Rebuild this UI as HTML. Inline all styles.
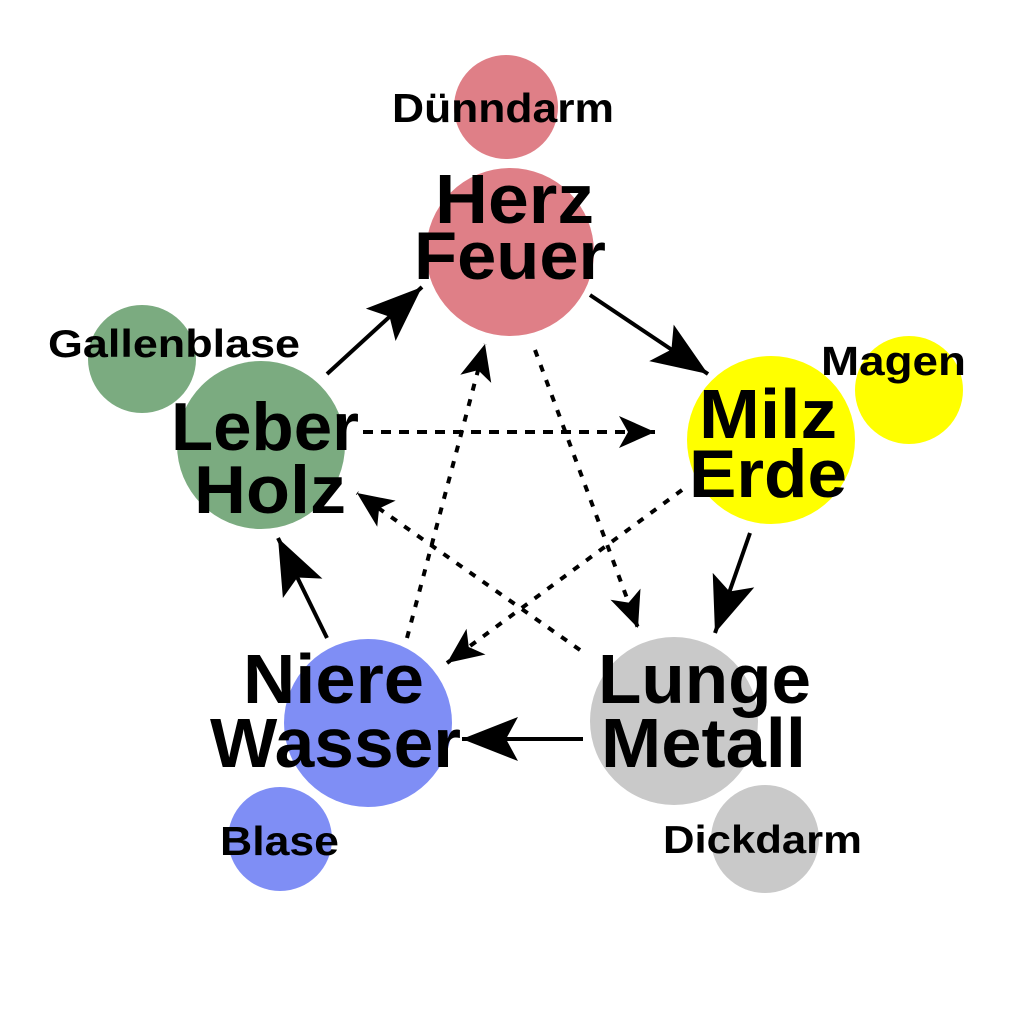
<!DOCTYPE html>
<html>
<head>
<meta charset="utf-8">
<style>
  html,body{margin:0;padding:0;background:#fff;}
  svg{display:block;}
  text{font-family:"Liberation Sans", Arial, sans-serif;font-weight:bold;fill:#000;}
</style>
</head>
<body>
<svg width="1023" height="1023" viewBox="0 0 1023 1023" xmlns="http://www.w3.org/2000/svg">
  <defs>
    <marker id="hs" markerUnits="userSpaceOnUse" viewBox="-60 -25 62 50" refX="0" refY="0" markerWidth="62" markerHeight="50" orient="auto">
      <path d="M0,0 L-56,-22 L-44,0 L-56,22 Z" fill="#000"/>
    </marker>
    <marker id="hd" markerUnits="userSpaceOnUse" viewBox="-40 -18 42 36" refX="0" refY="0" markerWidth="42" markerHeight="36" orient="auto">
      <path d="M0,0 L-36,-16 L-27,0 L-36,16 Z" fill="#000"/>
    </marker>
  </defs>
  <rect width="1023" height="1023" fill="#fff"/>

  <!-- circles -->
  <circle cx="506" cy="107" r="52" fill="#df7f87"/>
  <circle cx="510" cy="252" r="84" fill="#df7f87"/>

  <circle cx="142" cy="359" r="54" fill="#7bab80"/>
  <circle cx="261" cy="445" r="84" fill="#7bab80"/>

  <circle cx="909" cy="390" r="54" fill="#ffff00"/>
  <circle cx="771" cy="440" r="84" fill="#ffff00"/>

  <circle cx="368" cy="723" r="84" fill="#7f8ef5"/>
  <circle cx="280" cy="839" r="52" fill="#7f8ef5"/>

  <circle cx="674" cy="721" r="84" fill="#c9c9c9"/>
  <circle cx="765" cy="839" r="54" fill="#c9c9c9"/>

  <!-- labels -->
  <text x="392" y="122" font-size="41" textLength="222" lengthAdjust="spacingAndGlyphs">Dünndarm</text>
  <text x="435" y="223" font-size="70" textLength="159" lengthAdjust="spacingAndGlyphs">Herz</text>
  <text x="414" y="279" font-size="68" textLength="192" lengthAdjust="spacingAndGlyphs">Feuer</text>

  <text x="48" y="357" font-size="39" textLength="252" lengthAdjust="spacingAndGlyphs">Gallenblase</text>
  <text x="171" y="450" font-size="68" textLength="188" lengthAdjust="spacingAndGlyphs">Leber</text>
  <text x="194" y="513" font-size="68" textLength="152" lengthAdjust="spacingAndGlyphs">Holz</text>

  <text x="821" y="375" font-size="41" textLength="145" lengthAdjust="spacingAndGlyphs">Magen</text>
  <text x="699" y="438" font-size="70" textLength="138" lengthAdjust="spacingAndGlyphs">Milz</text>
  <text x="689" y="497" font-size="68" textLength="158" lengthAdjust="spacingAndGlyphs">Erde</text>

  <text x="243" y="703" font-size="70" textLength="181" lengthAdjust="spacingAndGlyphs">Niere</text>
  <text x="210" y="767" font-size="70" textLength="251" lengthAdjust="spacingAndGlyphs">Wasser</text>
  <text x="220" y="855" font-size="41" textLength="119" lengthAdjust="spacingAndGlyphs">Blase</text>

  <text x="598" y="703" font-size="70" textLength="213" lengthAdjust="spacingAndGlyphs">Lunge</text>
  <text x="601" y="767" font-size="70" textLength="205" lengthAdjust="spacingAndGlyphs">Metall</text>
  <text x="663" y="853" font-size="39" textLength="199" lengthAdjust="spacingAndGlyphs">Dickdarm</text>

  <!-- solid arrows -->
  <g stroke="#000" stroke-width="4" fill="none">
    <line x1="327" y1="374" x2="422" y2="287" marker-end="url(#hs)"/>
    <line x1="590" y1="295" x2="708" y2="374" marker-end="url(#hs)"/>
    <line x1="750" y1="533" x2="715" y2="633" marker-end="url(#hs)"/>
    <line x1="583" y1="739" x2="462" y2="739" marker-end="url(#hs)"/>
    <line x1="327" y1="638" x2="278" y2="538" marker-end="url(#hs)"/>
  </g>

  <!-- dotted arrows -->
  <g stroke="#000" stroke-width="4" fill="none">
    <line x1="363" y1="432" x2="655" y2="432" stroke-dasharray="10 8" marker-end="url(#hd)"/>
    <line x1="535" y1="350" x2="638" y2="628" stroke-dasharray="7 9" marker-end="url(#hd)"/>
    <line x1="682" y1="490" x2="447" y2="663" stroke-dasharray="7 9" marker-end="url(#hd)"/>
    <line x1="580" y1="650" x2="357" y2="493" stroke-dasharray="7 9" marker-end="url(#hd)"/>
    <line x1="407" y1="638" x2="485" y2="344" stroke-dasharray="7 9" marker-end="url(#hd)"/>
  </g>
</svg>
</body>
</html>
